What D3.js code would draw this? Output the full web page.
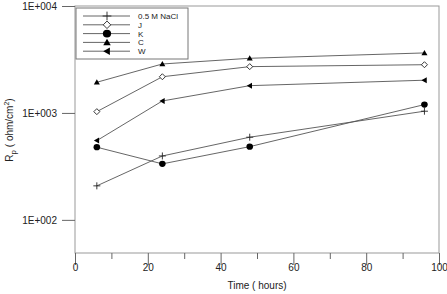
<!DOCTYPE html>
<html>
<head>
<script src="https://d3js.org/d3.v7.min.js"></script>
<style>
  body { margin: 0; background: #fff; }
  text { font-family: "Liberation Sans", Arial, sans-serif; fill: #222; }
</style>
</head>
<body>
<svg width="447" height="294"></svg>
<script>
// Data
const hours = [6, 24, 48, 96];
const seriesNames = ["0.5 M NaCl", "J", "K", "C", "W"];
const nacl = [208, 396, 593, 1038];
const sJ = [1028, 2180, 2710, 2825];
const sK = [478, 334, 484, 1197];
const sC = [1936, 2870, 3245, 3640];
const sW = [551, 1294, 1799, 2023];
const yTickValues = [100, 1000, 10000];
const yTickLabels = ["1E+002", "1E+003", "1E+004"];
const xTickValues = [0, 20, 40, 60, 80, 100];

const series = [
  { name: seriesNames[0], values: nacl, marker: "plus" },
  { name: seriesNames[1], values: sJ, marker: "diamond" },
  { name: seriesNames[2], values: sK, marker: "circle" },
  { name: seriesNames[3], values: sC, marker: "triUp" },
  { name: seriesNames[4], values: sW, marker: "triLeft" }
];

const margin = { top: 6, right: 8, bottom: 41, left: 75 };
const width = 447, height = 294;

const svg = d3.select("svg");

const x = d3.scaleLinear().domain([0, 100]).range([margin.left, width - margin.right]);
const y = d3.scaleLog().domain([49, 10000]).range([height - margin.bottom, margin.top]);

// frame
svg.append("rect")
  .attr("x", margin.left).attr("y", margin.top)
  .attr("width", width - margin.right - margin.left)
  .attr("height", height - margin.bottom - margin.top)
  .attr("fill", "none").attr("stroke", "#999").attr("stroke-width", 1);

// x axis
const xAxis = svg.append("g").attr("transform", `translate(0,${height - margin.bottom})`);
xAxis.call(d3.axisBottom(x).tickValues(xTickValues).tickSize(12).tickPadding(4).tickFormat(d3.format("d")));
xAxis.append("g").call(d3.axisBottom(x).tickValues([10, 30, 50, 70, 90]).tickSize(6).tickFormat(""));
xAxis.selectAll(".domain").remove();
xAxis.selectAll("line").attr("stroke", "#666");
xAxis.selectAll("text").attr("font-size", 10).attr("fill", "#222").attr("dy", "0.2em");

// y axis
const yAxis = svg.append("g").attr("transform", `translate(${margin.left},0)`);
yAxis.call(d3.axisLeft(y).tickValues(yTickValues).tickSize(13).tickPadding(5)
  .tickFormat((d, i) => yTickLabels[i]));
yAxis.selectAll(".domain").remove();
yAxis.selectAll("line").attr("stroke", "#666");
yAxis.selectAll("text").attr("font-size", 10).attr("fill", "#222");

// axis titles
svg.append("text")
  .attr("x", (margin.left + width - margin.right) / 2).attr("y", 289)
  .attr("text-anchor", "middle").attr("font-size", 10)
  .text("Time ( hours)");

const yt = svg.append("text")
  .attr("transform", "translate(13,130) rotate(-90)")
  .attr("text-anchor", "middle").attr("font-size", 10);
yt.append("tspan").text("R");
yt.append("tspan").attr("font-size", 8).attr("dy", 3).text("p");
yt.append("tspan").attr("dy", -3).text(" ( ohm/cm");
yt.append("tspan").attr("font-size", 7).attr("dy", -4).text("2");
yt.append("tspan").attr("dy", 4).text(")");

// marker drawing, k scales the size
function drawMarker(g, type, cx, cy, k) {
  if (type === "plus") {
    g.append("path").attr("d", `M${cx - 3.5 * k},${cy}H${cx + 3.5 * k}M${cx},${cy - 3.5 * k}V${cy + 3.5 * k}`)
      .attr("stroke", "#222").attr("stroke-width", 0.9).attr("fill", "none");
  } else if (type === "diamond") {
    const r = 3 * k;
    g.append("path").attr("d", `M${cx},${cy - r}L${cx + r},${cy}L${cx},${cy + r}L${cx - r},${cy}Z`)
      .attr("stroke", "#222").attr("stroke-width", 0.9).attr("fill", "#fff");
  } else if (type === "circle") {
    g.append("ellipse").attr("cx", cx).attr("cy", cy).attr("rx", 3.3 * k).attr("ry", 3.1 * k).attr("fill", "#000");
  } else if (type === "triUp") {
    g.append("path").attr("d", `M${cx},${cy - 3 * k}L${cx + 3 * k},${cy + 2.3 * k}L${cx - 3 * k},${cy + 2.3 * k}Z`)
      .attr("fill", "#000");
  } else if (type === "triLeft") {
    g.append("path").attr("d", `M${cx - 3 * k},${cy}L${cx + 2.3 * k},${cy - 3 * k}L${cx + 2.3 * k},${cy + 3 * k}Z`)
      .attr("fill", "#000");
  }
}

const line = d3.line().x((d, i) => x(hours[i])).y(d => y(d));

series.forEach(s => {
  const g = svg.append("g");
  g.append("path").datum(s.values).attr("d", line)
    .attr("fill", "none").attr("stroke", "#555").attr("stroke-width", 0.9);
  s.values.forEach((v, i) => drawMarker(g, s.marker, x(hours[i]), y(v), 1));
});

// legend
const legend = svg.append("g");
legend.append("rect").attr("x", 76).attr("y", 8).attr("width", 112).attr("height", 51)
  .attr("fill", "#fff").attr("stroke", "#777").attr("stroke-width", 1);
series.forEach((s, i) => {
  const ly = 16 + i * 8.8;
  legend.append("line").attr("x1", 83).attr("x2", 130).attr("y1", ly).attr("y2", ly)
    .attr("stroke", "#555").attr("stroke-width", 0.9);
  drawMarker(legend, s.marker, 107, ly, 1.25);
  legend.append("text").attr("x", 138).attr("y", ly + 3).attr("font-size", 8).text(s.name);
});
</script>
</body>
</html>
